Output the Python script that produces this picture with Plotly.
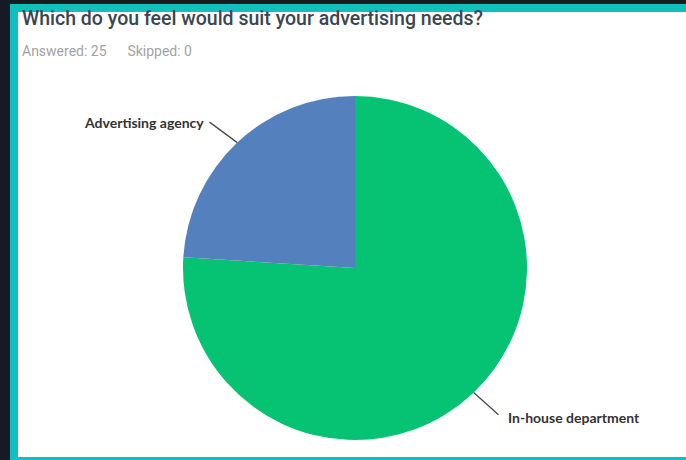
import math
import plotly.graph_objects as go

title_text = "Which do you feel would suit your advertising needs?"
answered = 25
skipped = 0
labels = ["In-house department", "Advertising agency"]
values = [19, 6]
colors = ["#05c372", "#5480bd"]

W, H = 686, 460
cx, cy, r = 355, 268, 172  # pixel geometry of the pie

def px(x):
    return x / W

def py(y):
    return 1 - y / H

fig = go.Figure()
fig.add_trace(go.Pie(
    labels=labels, values=values, sort=False, direction="clockwise",
    rotation=0, marker=dict(colors=colors, line=dict(width=0)),
    textinfo="none", hoverinfo="label+percent", showlegend=False,
    domain=dict(x=[px(cx - r), px(cx + r)], y=[py(cy + r), py(cy - r)]),
))

shapes = [
    # dark screen edge on the left and top
    dict(type="rect", xref="paper", yref="paper", x0=-0.05, x1=px(10), y0=-0.05, y1=1.05,
         fillcolor="#151a25", line=dict(width=0), layer="below"),
    dict(type="rect", xref="paper", yref="paper", x0=-0.05, x1=1.05, y0=py(4), y1=1.05,
         fillcolor="#151a25", line=dict(width=0), layer="below"),
    # teal frame
    dict(type="rect", xref="paper", yref="paper", x0=px(10), x1=px(18), y0=-0.05, y1=py(4),
         fillcolor="#11bfbf", line=dict(width=0), layer="below"),
    dict(type="rect", xref="paper", yref="paper", x0=px(10), x1=1.05, y0=py(12), y1=py(4),
         fillcolor="#11bfbf", line=dict(width=0), layer="below"),
    dict(type="rect", xref="paper", yref="paper", x0=px(10), x1=1.05, y0=-0.05, y1=py(457),
         fillcolor="#11bfbf", line=dict(width=0), layer="below"),
]

annotations = [
    dict(text=title_text, x=px(20), y=py(18), xref="paper", yref="paper",
         xanchor="left", yanchor="middle", showarrow=False,
         font=dict(family="Roboto", size=19.5, color="#3a4650", weight=500)),
    dict(text=f"Answered: {answered}&nbsp;&nbsp;&nbsp;&nbsp;&nbsp;&nbsp;Skipped: {skipped}",
         x=px(20), y=py(51), xref="paper", yref="paper",
         xanchor="left", yanchor="middle", showarrow=False,
         font=dict(family="Roboto", size=14, color="#a3a3a3")),
]

label_angles = [136.4, -43.2]  # degrees clockwise from 12 o'clock
label_info = [
    dict(text=labels[0], tx=574, ty=417, sx=500, sy=416, ang=label_angles[0]),
    dict(text=labels[1], tx=144, ty=122, sx=208, sy=121, ang=label_angles[1]),
]
for info in label_info:
    a = math.radians(info["ang"])
    ex = cx + r * math.sin(a)
    ey = cy - r * math.cos(a)
    annotations.append(dict(
        text="", x=px(ex), y=py(ey), xref="paper", yref="paper",
        showarrow=True, arrowhead=0, arrowwidth=1.3, arrowcolor="#4a4a4a",
        ax=info["sx"] - ex, ay=info["sy"] - ey, standoff=0, startstandoff=0))
    annotations.append(dict(
        text=info["text"], x=px(info["tx"]), y=py(info["ty"]), xref="paper", yref="paper",
        xanchor="center", yanchor="middle", showarrow=False,
        font=dict(family="Lato", size=14, color="#333333", weight="bold")))

fig.update_layout(
    width=W, height=H, margin=dict(l=0, r=0, t=0, b=0),
    paper_bgcolor="#ffffff", plot_bgcolor="#ffffff",
    shapes=shapes, annotations=annotations,
)
fig.write_html("out.html")
